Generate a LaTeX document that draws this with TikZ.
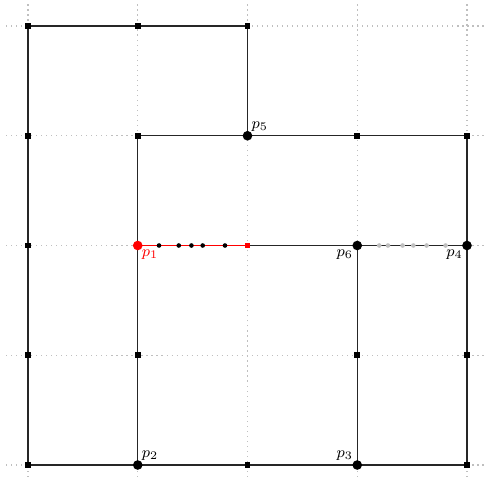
\documentclass[tikz,border=0pt]{standalone}
\usetikzlibrary{calc}
\begin{document}
\begin{tikzpicture}[x=2cm,y=2cm,
  gridline/.style={gray!50, dotted, line width=0.6pt},
  edge/.style={black!85, line width=0.6pt},
  sq/.style={fill=black, inner sep=0pt, minimum size=3pt, rectangle},
  rsq/.style={fill=red, inner sep=0pt, minimum size=3pt, rectangle},
  big/.style={fill=black, circle, inner sep=0pt, minimum size=5pt},
  rbig/.style={fill=red, circle, inner sep=0pt, minimum size=5pt},
  dot/.style={fill=black, circle, inner sep=0pt, minimum size=2.4pt},
  gdot/.style={fill=gray!50, circle, inner sep=0pt, minimum size=2.4pt},
  lab/.style={font=\footnotesize, inner sep=2pt}]
\useasboundingbox (-0.255,-0.137) rectangle (4.164,4.237);
\clip (-0.255,-0.137) rectangle (4.164,4.237);
% grid
\foreach \i in {0,...,4} {
  \draw[gridline] (\i,-0.2) -- (\i,4.2);
  \draw[gridline] (-0.2,\i) -- (4.2,\i);
}
% vertices
\foreach \x/\y/\n in {0/0/a00,0/1/a01,0/2/a02,0/3/a03,0/4/a04,1/4/a14,2/4/a24,1/3/a13,3/3/a33,4/3/a43,1/1/a11,3/1/a31,4/1/a41,2/0/a20,4/0/a40}
  \coordinate (\n) at (\x,\y);
\coordinate (q1) at (1,2);
\coordinate (q2) at (1,0);
\coordinate (q3) at (3,0);
\coordinate (q4) at (4,2);
\coordinate (q5) at (2,3);
\coordinate (q6) at (3,2);
\coordinate (mid) at (2,2);
% edges
\draw[edge] (a00) -- (a01) -- (a02) -- (a03) -- (a04) -- (a14) -- (a24) -- (q5);
\draw[edge] (a00) -- (q2) -- (a20) -- (q3) -- (a40) -- (a41) -- (q4) -- (a43);
\draw[edge] (a13) -- (q5) -- (a33) -- (a43);
\draw[edge] (q2) -- (a11) -- (q1) -- (a13);
\draw[edge] (mid) -- (q6) -- (q4);
\draw[edge] (q3) -- (a31) -- (q6);
\fill[red] ($(q1)+(0,-0.5pt)$) rectangle ($(mid)+(0,0.5pt)$);
% small markers
\foreach \t in {0.194,0.374,0.489,0.592,0.795}
  \node[dot] at ($(q1)+(\t,0)$) {};
\foreach \t in {0.2,0.28,0.413,0.511,0.632,0.805}
  \node[gdot] at ($(q6)+(\t,0)$) {};
% squares
\foreach \n in {a00,a01,a02,a03,a04,a14,a24,a13,a33,a43,a11,a31,a41,a20,a40}
  \node[sq] at (\n) {};
\node[rsq] at (mid) {};
% big points
\node[rbig] at (q1) {};
\foreach \n in {q2,q3,q4,q5,q6}
  \node[big] at (\n) {};
% labels
\node[lab, red, anchor=north west] at (q1) {$p_1$};
\node[lab, anchor=south west] at (q2) {$p_2$};
\node[lab, anchor=south east] at (q3) {$p_3$};
\node[lab, anchor=north east] at (q4) {$p_4$};
\node[lab, anchor=south west] at (q5) {$p_5$};
\node[lab, anchor=north east] at (q6) {$p_6$};
\end{tikzpicture}
\end{document}
